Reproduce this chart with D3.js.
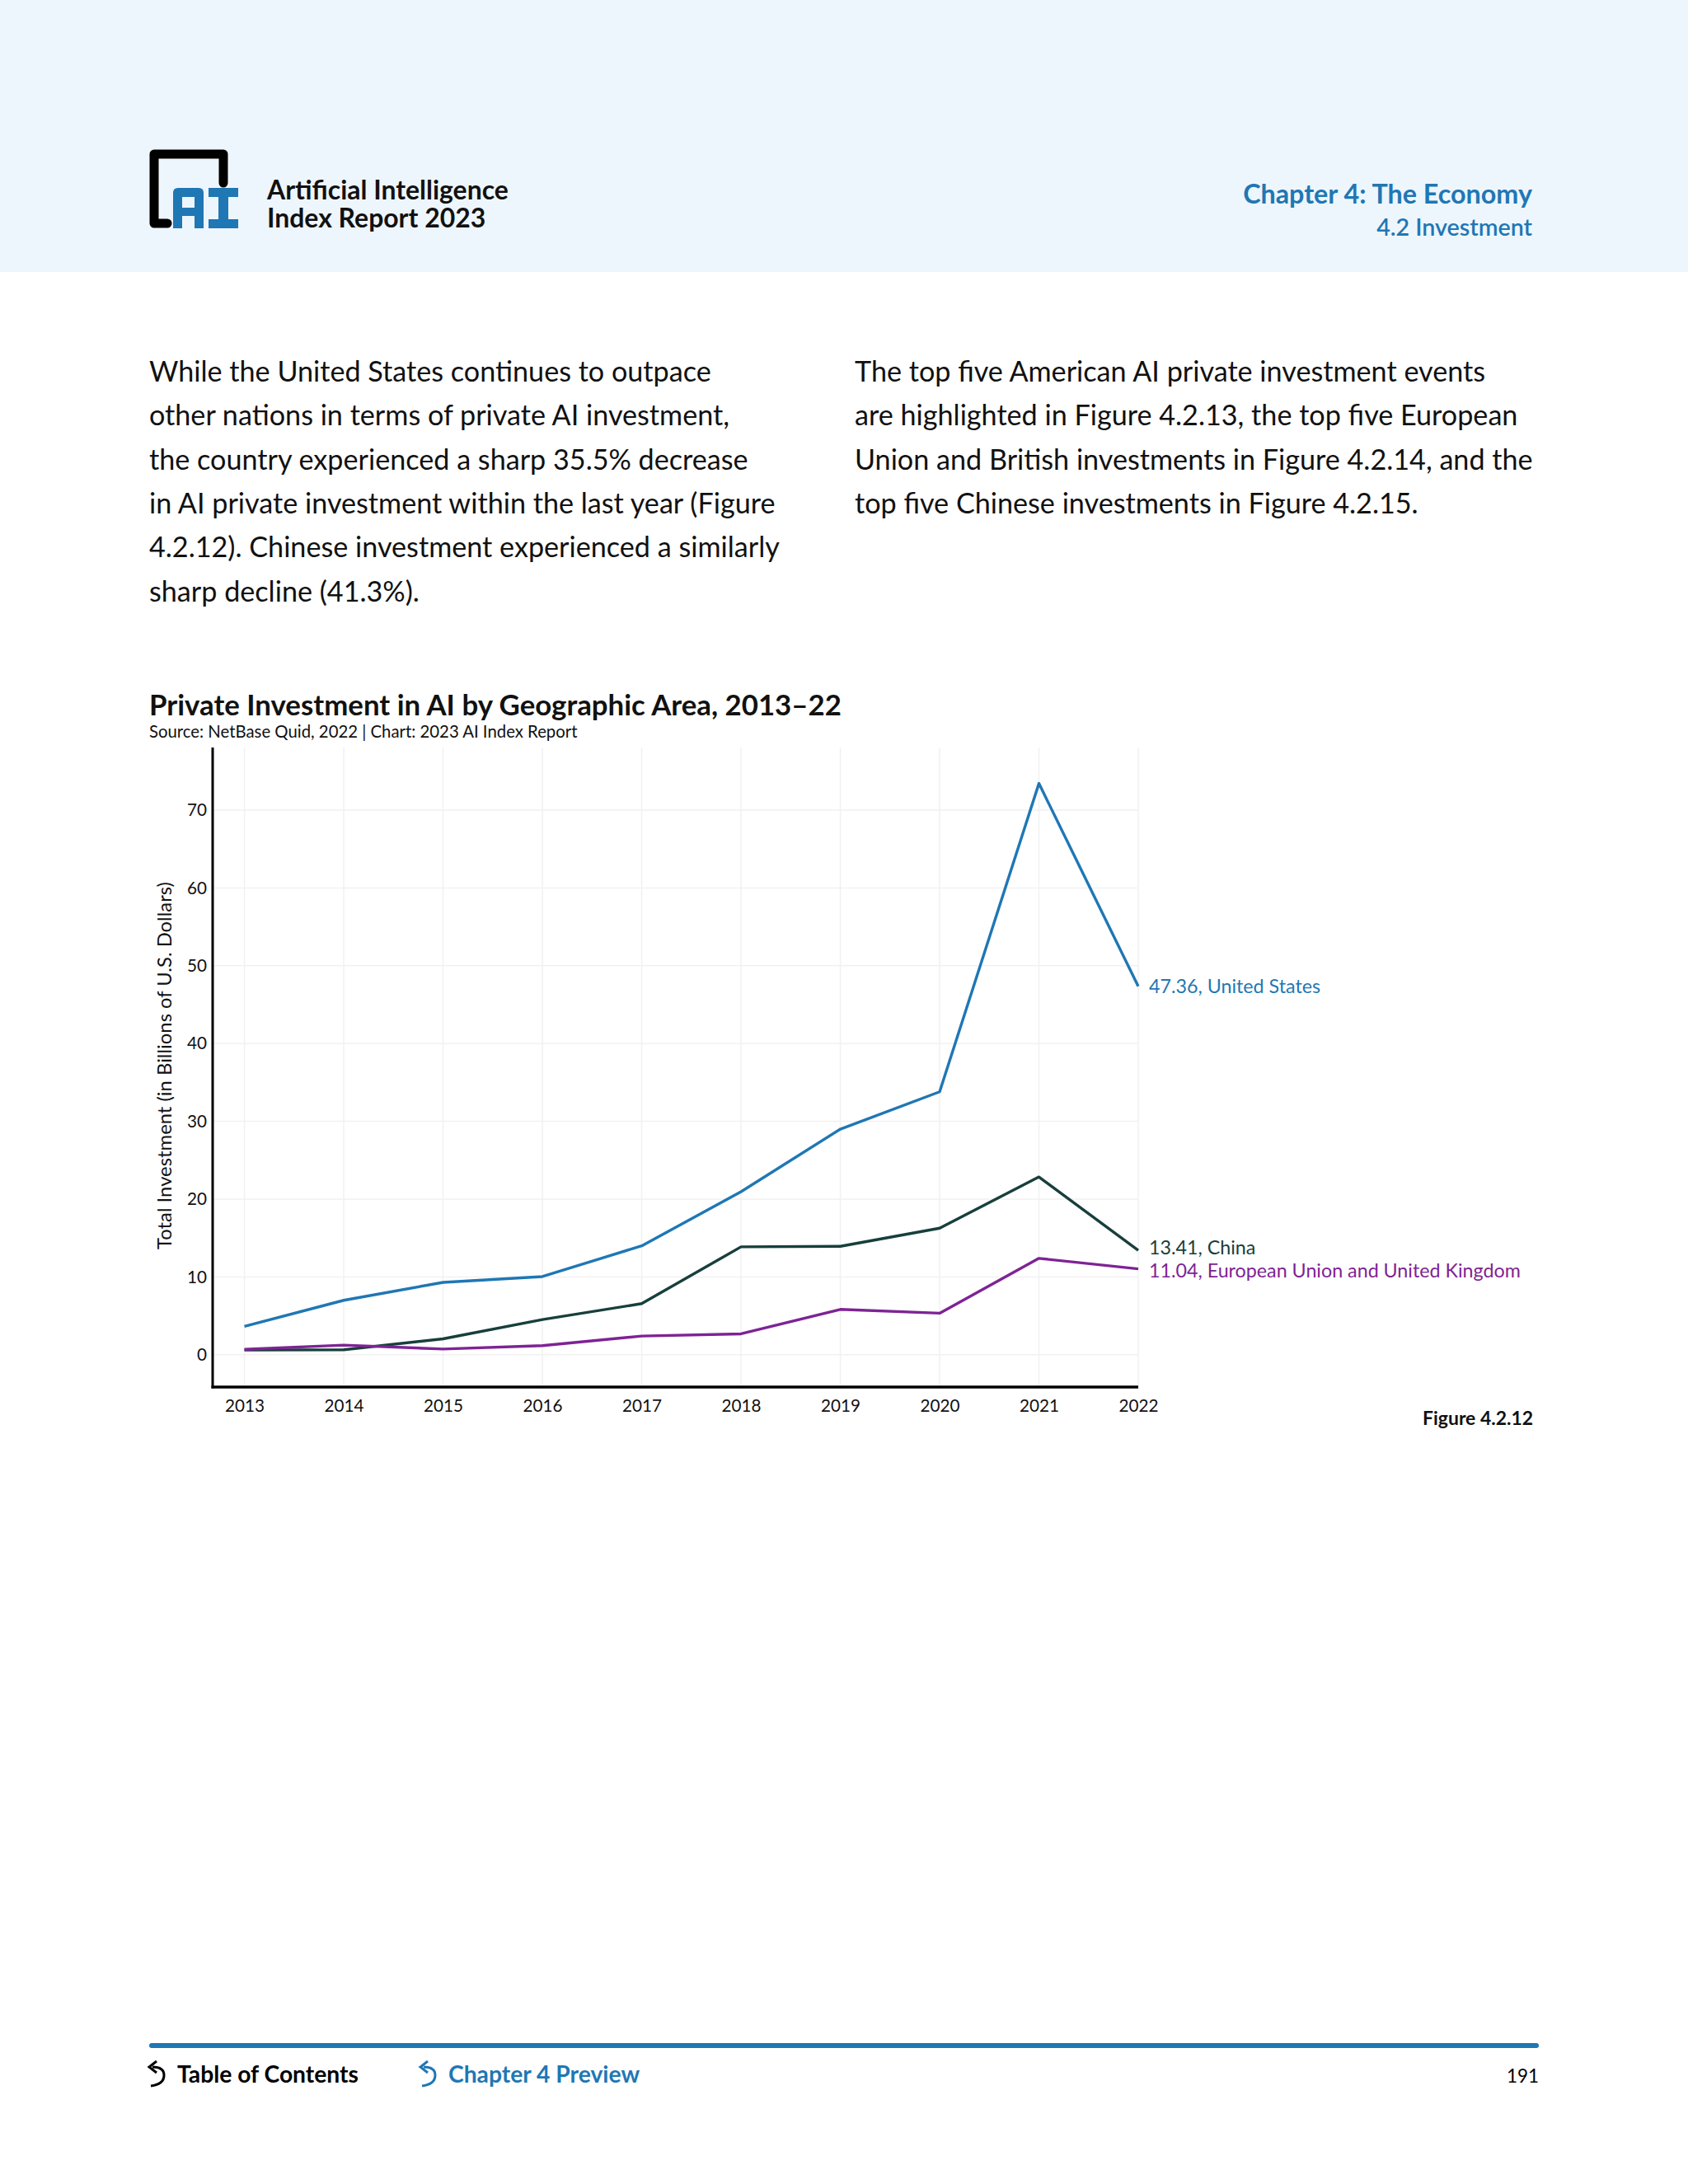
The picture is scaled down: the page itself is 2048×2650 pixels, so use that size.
<!DOCTYPE html>
<html><head><meta charset="utf-8">
<script src="https://cdn.jsdelivr.net/npm/d3@7"></script>
<style>html,body{margin:0;padding:0;background:#fff;}svg{display:block;}</style>
</head><body>
<svg id="page" width="2048" height="2650"></svg>
<script>
// ---------- DATA ----------
const years = [2013, 2014, 2015, 2016, 2017, 2018, 2019, 2020, 2021, 2022];
const usValues    = [3.64, 7.0, 9.3, 10.05, 14.0, 20.95, 29.0, 33.8, 73.43, 47.36];
const chinaValues = [0.6, 0.64, 2.05, 4.52, 6.57, 13.87, 13.94, 16.27, 22.85, 13.41];
const euValues    = [0.7, 1.24, 0.74, 1.17, 2.4, 2.69, 5.83, 5.34, 12.39, 11.04];
const seriesNames = ["United States", "China", "European Union and United Kingdom"];
const yTicks = [0, 10, 20, 30, 40, 50, 60, 70];
const leftPara = [
  "While the United States continues to outpace",
  "other nations in terms of private AI investment,",
  "the country experienced a sharp 35.5% decrease",
  "in AI private investment within the last year (Figure",
  "4.2.12). Chinese investment experienced a similarly",
  "sharp decline (41.3%)."
];
const rightPara = [
  "The top five American AI private investment events",
  "are highlighted in Figure 4.2.13, the top five European",
  "Union and British investments in Figure 4.2.14, and the",
  "top five Chinese investments in Figure 4.2.15."
];

// ---------- STYLE ----------
const FONT = "Lato, 'Open Sans', sans-serif";
const BLUE = "#1f77b4";
const colors = ["#1f77b4", "#173f3c", "#7e2395"];
const labelNudge = [0, -3, 2];

const svg = d3.select("#page");

function fitSize(text, weight, target) {
  const t = svg.append("text").attr("font-family", FONT).attr("font-weight", weight)
    .attr("font-size", 100).text(text);
  const w = t.node().getComputedTextLength();
  t.remove();
  return 100 * target / w;
}

// ---------- HEADER ----------
svg.append("rect").attr("x", 0).attr("y", 0).attr("width", 2048).attr("height", 330).attr("fill", "#eef6fd");

const logo = svg.append("g");
logo.append("path")
  .attr("d", "M203,271 L187,271 L187,187 L271,187 L271,222")
  .attr("fill", "none").attr("stroke", "#000").attr("stroke-width", 11)
  .attr("stroke-linejoin", "round").attr("stroke-linecap", "round");
logo.append("path")
  .attr("d", "M210,277 L210,234 Q210,228 216,228 L241,228 Q247,228 247,234 L247,277 L236,277 L236,262 L221,262 L221,277 Z M221,239 L221,252 L236,252 L236,239 Z")
  .attr("fill", BLUE).attr("fill-rule", "evenodd");
logo.append("path")
  .attr("d", "M253,228 L289,228 L289,239 L277,239 L277,266 L289,266 L289,277 L253,277 L253,266 L265,266 L265,239 L253,239 Z")
  .attr("fill", BLUE);

const hs = fitSize("Artificial Intelligence", 700, 293);
svg.append("text").attr("x", 324).attr("y", 242).attr("font-family", FONT).attr("font-weight", 700)
  .attr("font-size", hs).attr("fill", "#111").text("Artificial Intelligence");
svg.append("text").attr("x", 324).attr("y", 276).attr("font-family", FONT).attr("font-weight", 700)
  .attr("font-size", hs).attr("fill", "#111").text("Index Report 2023");

svg.append("text").attr("x", 1859).attr("y", 247).attr("text-anchor", "end").attr("font-family", FONT)
  .attr("font-weight", 700).attr("font-size", fitSize("Chapter 4: The Economy", 700, 351))
  .attr("fill", BLUE).text("Chapter 4: The Economy");
svg.append("text").attr("x", 1859).attr("y", 286).attr("text-anchor", "end").attr("font-family", FONT)
  .attr("font-weight", 600).attr("font-size", fitSize("4.2 Investment", 600, 189))
  .attr("fill", BLUE).text("4.2 Investment");

// ---------- BODY TEXT ----------
const bodySize = fitSize(leftPara[0], 400, 682);
leftPara.forEach((l, i) => {
  svg.append("text").attr("x", 181).attr("y", 463 + i * 53.3).attr("font-family", FONT)
    .attr("font-size", bodySize).attr("fill", "#111").text(l);
});
rightPara.forEach((l, i) => {
  svg.append("text").attr("x", 1037).attr("y", 463 + i * 53.3).attr("font-family", FONT)
    .attr("font-size", bodySize).attr("fill", "#111").text(l);
});

// ---------- CHART ----------
const title = "Private Investment in AI by Geographic Area, 2013–22";
svg.append("text").attr("x", 181).attr("y", 868).attr("font-family", FONT).attr("font-weight", 700)
  .attr("font-size", fitSize(title, 700, 840)).attr("fill", "#111").text(title);
const src = "Source: NetBase Quid, 2022 | Chart: 2023 AI Index Report";
svg.append("text").attr("x", 181).attr("y", 895).attr("font-family", FONT)
  .attr("font-size", fitSize(src, 400, 520)).attr("fill", "#111").text(src);

const plot = { left: 258, right: 1381, top: 907, bottom: 1683 };
const x = d3.scaleLinear().domain([2012.68, 2022]).range([plot.left, plot.right]);
const y = d3.scaleLinear().domain([-4.15, 78.05]).range([plot.bottom, plot.top]);

const g = svg.append("g");
g.selectAll("line.vg").data(years).join("line")
  .attr("x1", d => x(d)).attr("x2", d => x(d)).attr("y1", plot.top).attr("y2", plot.bottom)
  .attr("stroke", "#f1f1f1").attr("stroke-width", 1.5);
g.selectAll("line.hg").data(yTicks).join("line")
  .attr("x1", plot.left).attr("x2", plot.right).attr("y1", d => y(d)).attr("y2", d => y(d))
  .attr("stroke", "#f1f1f1").attr("stroke-width", 1.5);

const tickSize = fitSize("2013", 400, 48);
const yAxis = d3.axisLeft(y).tickValues(yTicks).tickSize(0).tickPadding(7);
const ya = g.append("g").attr("transform", `translate(${plot.left},0)`).call(yAxis);
ya.select(".domain").remove();
ya.selectAll("text").attr("font-family", FONT).attr("font-size", tickSize).attr("fill", "#111");
const xAxis = d3.axisBottom(x).tickValues(years).tickFormat(d3.format("d")).tickSize(0).tickPadding(15);
const xa = g.append("g").attr("transform", `translate(0,${plot.bottom})`).call(xAxis);
xa.select(".domain").remove();
xa.selectAll("text").attr("font-family", FONT).attr("font-size", tickSize).attr("fill", "#111");

g.append("line").attr("x1", plot.left).attr("x2", plot.left).attr("y1", plot.top).attr("y2", plot.bottom + 1.5)
  .attr("stroke", "#000").attr("stroke-width", 3);
g.append("line").attr("x1", plot.left - 1.5).attr("x2", plot.right).attr("y1", plot.bottom).attr("y2", plot.bottom)
  .attr("stroke", "#000").attr("stroke-width", 3.5);

const yt = "Total Investment (in Billions of U.S. Dollars)";
g.append("text").attr("transform", `translate(208,1293) rotate(-90)`).attr("text-anchor", "middle")
  .attr("font-family", FONT).attr("font-size", fitSize(yt, 400, 446)).attr("fill", "#111").text(yt);

const allSeries = [usValues, chinaValues, euValues];
const line = d3.line().x((d, i) => x(years[i])).y(d => y(d));
g.selectAll("path.series").data(allSeries).join("path")
  .attr("d", d => line(d)).attr("fill", "none")
  .attr("stroke", (d, i) => colors[i]).attr("stroke-width", 3.4).attr("stroke-linejoin", "round");

const labSize = fitSize("11.04, European Union and United Kingdom", 400, 451);
g.selectAll("text.endlab").data(allSeries).join("text")
  .attr("x", x(2022) + 13).attr("y", (d, i) => y(d[d.length - 1]) + labelNudge[i])
  .attr("dy", "0.35em").attr("font-family", FONT).attr("font-size", labSize)
  .attr("fill", (d, i) => colors[i])
  .text((d, i) => `${d[d.length - 1].toFixed(2)}, ${seriesNames[i]}`);

svg.append("text").attr("x", 1860).attr("y", 1729).attr("text-anchor", "end").attr("font-family", FONT)
  .attr("font-weight", 700).attr("font-size", fitSize("Figure 4.2.12", 700, 134)).attr("fill", "#111").text("Figure 4.2.12");

// ---------- FOOTER ----------
svg.append("line").attr("x1", 184).attr("x2", 1864).attr("y1", 2482).attr("y2", 2482)
  .attr("stroke", BLUE).attr("stroke-width", 6).attr("stroke-linecap", "round");
function arrow(x0, col) {
  svg.append("path").attr("d", `M${x0 + 2},2531 Q${x0 + 18},2529 ${x0 + 18},2518 Q${x0 + 18},2508 ${x0 + 4},2508`)
    .attr("fill", "none").attr("stroke", col).attr("stroke-width", 3);
  svg.append("path").attr("d", `M${x0 + 9},2501 L${x0},2508 L${x0 + 9},2515`)
    .attr("fill", "none").attr("stroke", col).attr("stroke-width", 3);
}
arrow(181, "#000");
arrow(510, BLUE);
const fs = fitSize("Table of Contents", 700, 220);
svg.append("text").attr("x", 215).attr("y", 2527).attr("font-family", FONT).attr("font-weight", 700)
  .attr("font-size", fs).attr("fill", "#000").text("Table of Contents");
svg.append("text").attr("x", 544).attr("y", 2527).attr("font-family", FONT).attr("font-weight", 700)
  .attr("font-size", fs).attr("fill", BLUE).text("Chapter 4 Preview");
svg.append("text").attr("x", 1867).attr("y", 2527).attr("text-anchor", "end").attr("font-family", FONT)
  .attr("font-size", fitSize("191", 400, 39)).attr("fill", "#000").text("191");
</script>
</body></html>
